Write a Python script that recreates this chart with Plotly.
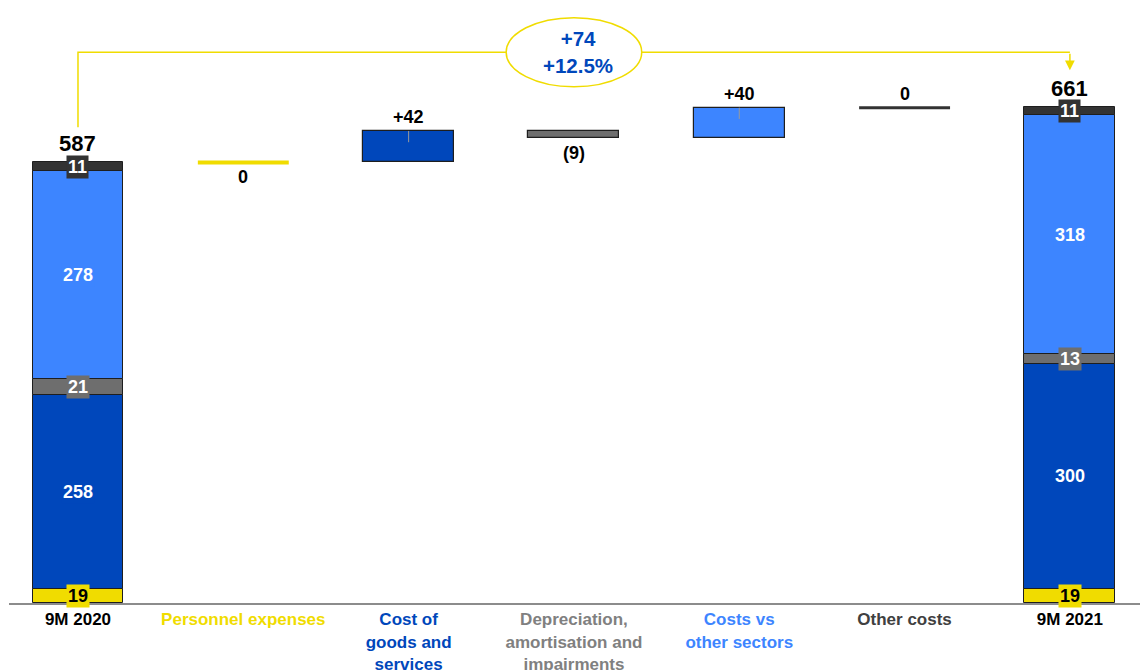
import numpy as np
import plotly.graph_objects as go

# ---------------- data ----------------
categories = ["9M 2020", "Personnel expenses", "Cost of goods and services",
              "Depreciation, amortisation and impairments", "Costs vs other sectors",
              "Other costs", "9M 2021"]
tick_labels = ["9M 2020", "Personnel expenses", "Cost of<br>goods and<br>services",
               "Depreciation,<br>amortisation and<br>impairments", "Costs vs<br>other sectors",
               "Other costs", "9M 2021"]
components = ["Personnel expenses", "Cost of goods and services",
              "Depreciation, amortisation and impairments", "Costs vs other sectors", "Other costs"]
values_2020 = [19, 258, 21, 278, 11]
values_2021 = [19, 300, 13, 318, 11]
deltas = [0, 42, -9, 40, 0]
delta_labels = ["0", "+42", "(9)", "+40", "0"]
change_pct_label = "+12.5%"

# ---------------- style ----------------
comp_colors = ["#F0DC00", "#0047BB", "#6E6E6E", "#3D85FF", "#333333"]
comp_text_colors = ["#000000", "#FFFFFF", "#FFFFFF", "#FFFFFF", "#FFFFFF"]
tick_colors = ["#000000", "#F0DC00", "#0047BB", "#808080", "#3D85FF", "#404040", "#000000"]
label_side = ["below", "above", "below", "above", "above"]
zero_line_width = [4, 3]
YELLOW = "#F0DC00"
FONT = "Liberation Sans, Arial, sans-serif"
BAR_W = 0.55
EDGE = "#1E1E1E"

fig = go.Figure()

x_first, x_last = 0, len(categories) - 1
total_2020 = int(np.sum(values_2020))
total_2021 = int(np.sum(values_2021))
base_2020 = np.concatenate([[0], np.cumsum(values_2020)[:-1]])
base_2021 = np.concatenate([[0], np.cumsum(values_2021)[:-1]])

annotations = []

# stacked total columns
for j, comp in enumerate(components):
    fig.add_trace(go.Bar(
        x=[x_first, x_last], y=[values_2020[j], values_2021[j]],
        base=[base_2020[j], base_2021[j]], width=BAR_W,
        marker=dict(color=comp_colors[j], line=dict(color=EDGE, width=1)),
        name=comp, showlegend=False, hoverinfo="skip"))
    for xx, b, v in ((x_first, base_2020[j], values_2020[j]), (x_last, base_2021[j], values_2021[j])):
        annotations.append(dict(
            x=xx, y=b + v / 2, text=f"<b>{v}</b>", showarrow=False,
            font=dict(family=FONT, size=18, color=comp_text_colors[j]),
            bgcolor=comp_colors[j], borderpad=1))

# totals
for xx, tot in ((x_first, total_2020), (x_last, total_2021)):
    annotations.append(dict(x=xx, y=tot, text=f"<b>{tot}</b>", showarrow=False,
                            yanchor="bottom", yshift=4,
                            font=dict(family=FONT, size=22, color="#000000")))

# bridge deltas
running = total_2020
zi = 0
for k, d in enumerate(deltas):
    xi = k + 1
    start, end = running, running + d
    lo, hi = min(start, end), max(start, end)
    if d != 0:
        fig.add_trace(go.Bar(
            x=[xi], y=[hi - lo], base=[lo], width=BAR_W,
            marker=dict(color=comp_colors[k], line=dict(color=EDGE, width=1.2)),
            showlegend=False, hoverinfo="skip"))
        if d > 0:
            fig.add_trace(go.Scatter(x=[xi, xi], y=[hi, hi - min(15, hi - lo)], mode="lines",
                                     line=dict(color="#9A9A9A", width=1),
                                     showlegend=False, hoverinfo="skip"))
    else:
        fig.add_trace(go.Scatter(
            x=[xi - BAR_W / 2, xi + BAR_W / 2], y=[start, start], mode="lines",
            line=dict(color=comp_colors[k], width=zero_line_width[zi]),
            showlegend=False, hoverinfo="skip"))
        zi += 1
    if label_side[k] == "above":
        annotations.append(dict(x=xi, y=hi, text=f"<b>{delta_labels[k]}</b>", showarrow=False,
                                yanchor="bottom", yshift=2,
                                font=dict(family=FONT, size=18, color="#000000")))
    else:
        annotations.append(dict(x=xi, y=lo, text=f"<b>{delta_labels[k]}</b>", showarrow=False,
                                yanchor="top", yshift=-3,
                                font=dict(family=FONT, size=18, color="#000000")))
    running = end

# bracket with change bubble
BRACKET_Y = 734
LEFT_GAP = 47
ARROW_GAP = 49
center_x = (x_first + x_last) / 2
shapes = [
    dict(type="path", xref="x", yref="y",
         path=f"M {x_first},{total_2020 + LEFT_GAP} L {x_first},{BRACKET_Y} L {x_last},{BRACKET_Y}",
         line=dict(color=YELLOW, width=1.5)),
    dict(type="circle", xref="x", yref="y",
         x0=center_x - 0.41, x1=center_x + 0.41, y0=BRACKET_Y - 46, y1=BRACKET_Y + 46,
         fillcolor="#FFFFFF", line=dict(color=YELLOW, width=1.5)),
]
annotations.append(dict(x=x_last, y=total_2021 + ARROW_GAP, ax=x_last, ay=BRACKET_Y,
                        axref="x", ayref="y", text="", showarrow=True,
                        arrowhead=2, arrowsize=1.3, arrowwidth=1.5, arrowcolor=YELLOW))
annotations.append(dict(x=center_x, y=BRACKET_Y, xshift=4,
                        text=f"<b>+{total_2021 - total_2020}<br>{change_pct_label}</b>",
                        showarrow=False, align="center",
                        font=dict(family=FONT, size=20.5, color="#0047BB")))

ticktext = [f"<b><span style='color:{c}'>{t}</span></b>" for t, c in zip(tick_labels, tick_colors)]

fig.update_layout(
    width=1140, height=670,
    margin=dict(l=9, r=0, t=0, b=67, autoexpand=False),
    paper_bgcolor="#FFFFFF", plot_bgcolor="#FFFFFF",
    barmode="overlay", bargap=0,
    shapes=shapes, annotations=annotations,
    font=dict(family=FONT),
    xaxis=dict(range=[-0.4173, 6.424], tickmode="array", tickvals=list(range(len(categories))),
               ticktext=ticktext, showgrid=False, zeroline=False, showline=True,
               linecolor="#8C8C8C", linewidth=2, ticks="", automargin=False,
               ticklabelstandoff=0,
               tickfont=dict(family=FONT, size=17, color="#000000")),
    yaxis=dict(range=[0, 803.5], visible=False, showgrid=False, zeroline=False, automargin=False),
)

fig.write_html("out.html", config={"displayModeBar": False},
               post_script="document.body.style.margin='0';")
